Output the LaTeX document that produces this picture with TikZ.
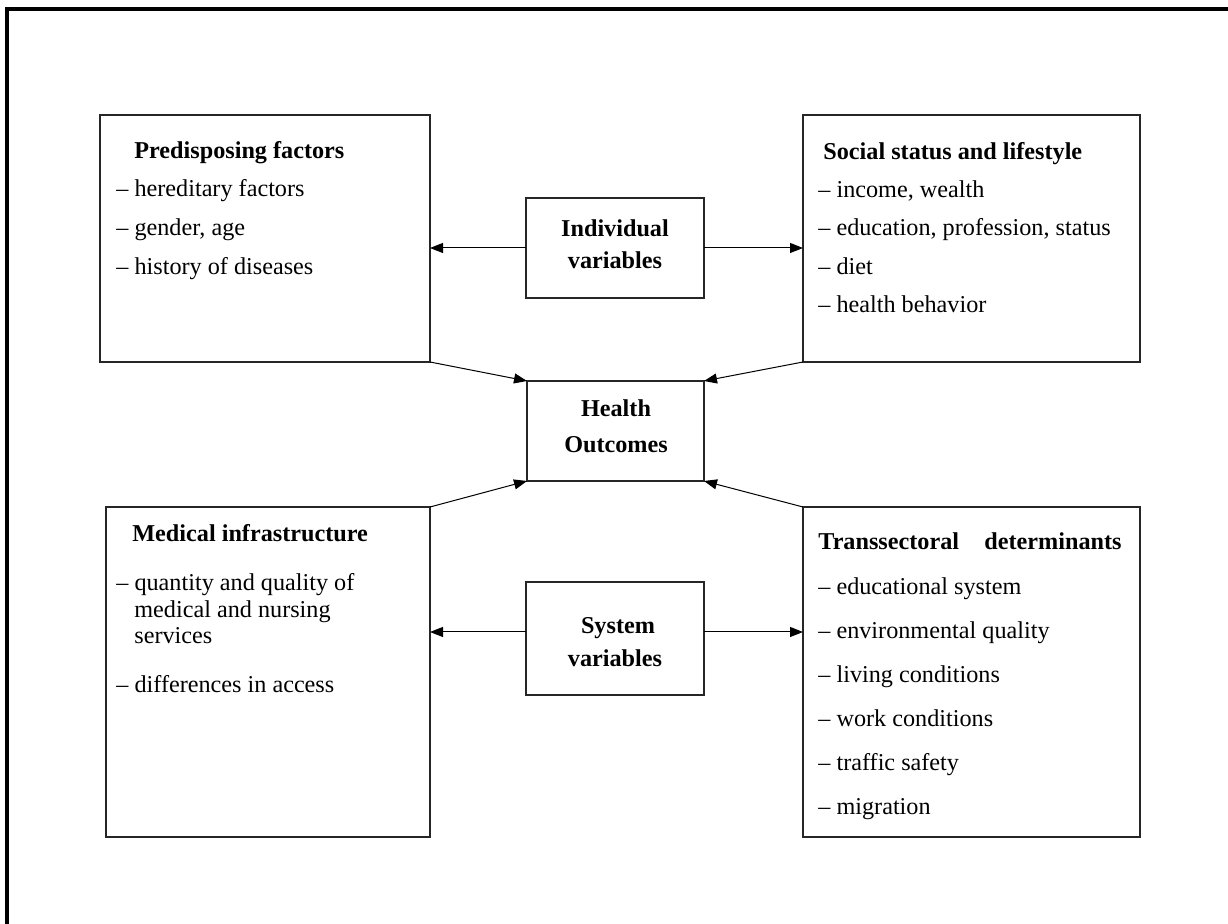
\documentclass[tikz,border=0pt]{standalone}
\usepackage{fontspec}
\setmainfont{Liberation Serif}
\usetikzlibrary{arrows.meta}
\begin{document}
\begin{tikzpicture}[x=0.5pt,y=-0.5pt,
 box/.style={draw=black!85, line width=0.55pt, inner sep=0pt, outer sep=0pt, anchor=north west},
 txt/.style={anchor=base west, inner sep=0pt, font=\fontsize{12.1pt}{14pt}\selectfont},
 ttl/.style={txt, font=\fontsize{12.1pt}{14pt}\selectfont\bfseries},
 ctr/.style={anchor=base, inner sep=0pt, font=\fontsize{12.1pt}{14pt}\selectfont\bfseries},
 conn/.style={line width=0.5pt, -{Triangle[length=6.5pt,width=5pt]}},
 frame/.style={line width=1.6pt}
]
\useasboundingbox (0,0) rectangle (1228,924);
\draw[frame] (7,930) -- (7,9) -- (1234,9);

% boxes
\node[box, minimum width=165pt, minimum height=123.5pt] (pre) at (100,115) {};
\node[box, minimum width=168.5pt, minimum height=123.5pt] (soc) at (803,115) {};
\node[box, minimum width=89pt, minimum height=50pt] (ind) at (526,198) {};
\node[box, minimum width=88.5pt, minimum height=50pt] (hea) at (527,381) {};
\node[box, minimum width=162pt, minimum height=165pt] (med) at (106,507) {};
\node[box, minimum width=168.5pt, minimum height=165pt] (tra) at (803,507) {};
\node[box, minimum width=89pt, minimum height=56.5pt] (sys) at (526,582) {};

% centre texts
\node[ctr] (indA) at (615,237) {Individual};
\node[ctr] (indB) at (615,269) {variables};
\node[ctr] (heaA) at (616,417) {Health};
\node[ctr] (heaB) at (616,453) {Outcomes};
\node[ctr] (sysA) at (618,634) {System};
\node[ctr] (sysB) at (615,667) {variables};

% predisposing
\node[ttl] (preT) at (134,159) {Predisposing factors};
\node[txt] (pre1) at (116,197) {– hereditary factors};
\node[txt] (pre2) at (116,236) {– gender, age};
\node[txt] (pre3) at (116,275) {– history of diseases};

% social
\node[ttl] (socT) at (823,160) {Social status and lifestyle};
\node[txt] (soc1) at (818,198) {– income, wealth};
\node[txt] (soc2) at (818,236) {– education, profession, status};
\node[txt] (soc3) at (818,275) {– diet};
\node[txt] (soc4) at (818,313) {– health behavior};

% medical
\node[ttl] (medT) at (132,542) {Medical infrastructure};
\node[txt] (med1) at (116,591) {– quantity and quality of};
\node[txt] (med2) at (134,618) {medical and nursing};
\node[txt] (med3) at (134,644) {services};
\node[txt] (med4) at (116,693) {– differences in access};

% transsectoral
\node[ttl] (traT) at (818,550) {Transsectoral\hspace{1.05em}determinants};
\node[txt] (tra1) at (818,595) {– educational system};
\node[txt] (tra2) at (818,639) {– environmental quality};
\node[txt] (tra3) at (818,683) {– living conditions};
\node[txt] (tra4) at (818,727) {– work conditions};
\node[txt] (tra5) at (818,771) {– traffic safety};
\node[txt] (tra6) at (818,815) {– migration};

% connectors
\draw[conn] (ind.west) -- (ind.west -| pre.east);
\draw[conn] (ind.east) -- (ind.east -| soc.west);
\draw[conn] ([yshift=3.25pt]sys.west) -- ([yshift=3.25pt]sys.west -| med.east);
\draw[conn] ([yshift=3.25pt]sys.east) -- ([yshift=3.25pt]sys.east -| tra.west);
\draw[conn] (pre.south east) -- (hea.north west);
\draw[conn] (soc.south west) -- (hea.north east);
\draw[conn] (med.north east) -- (hea.south west);
\draw[conn] (tra.north west) -- (hea.south east);
\end{tikzpicture}
\end{document}
